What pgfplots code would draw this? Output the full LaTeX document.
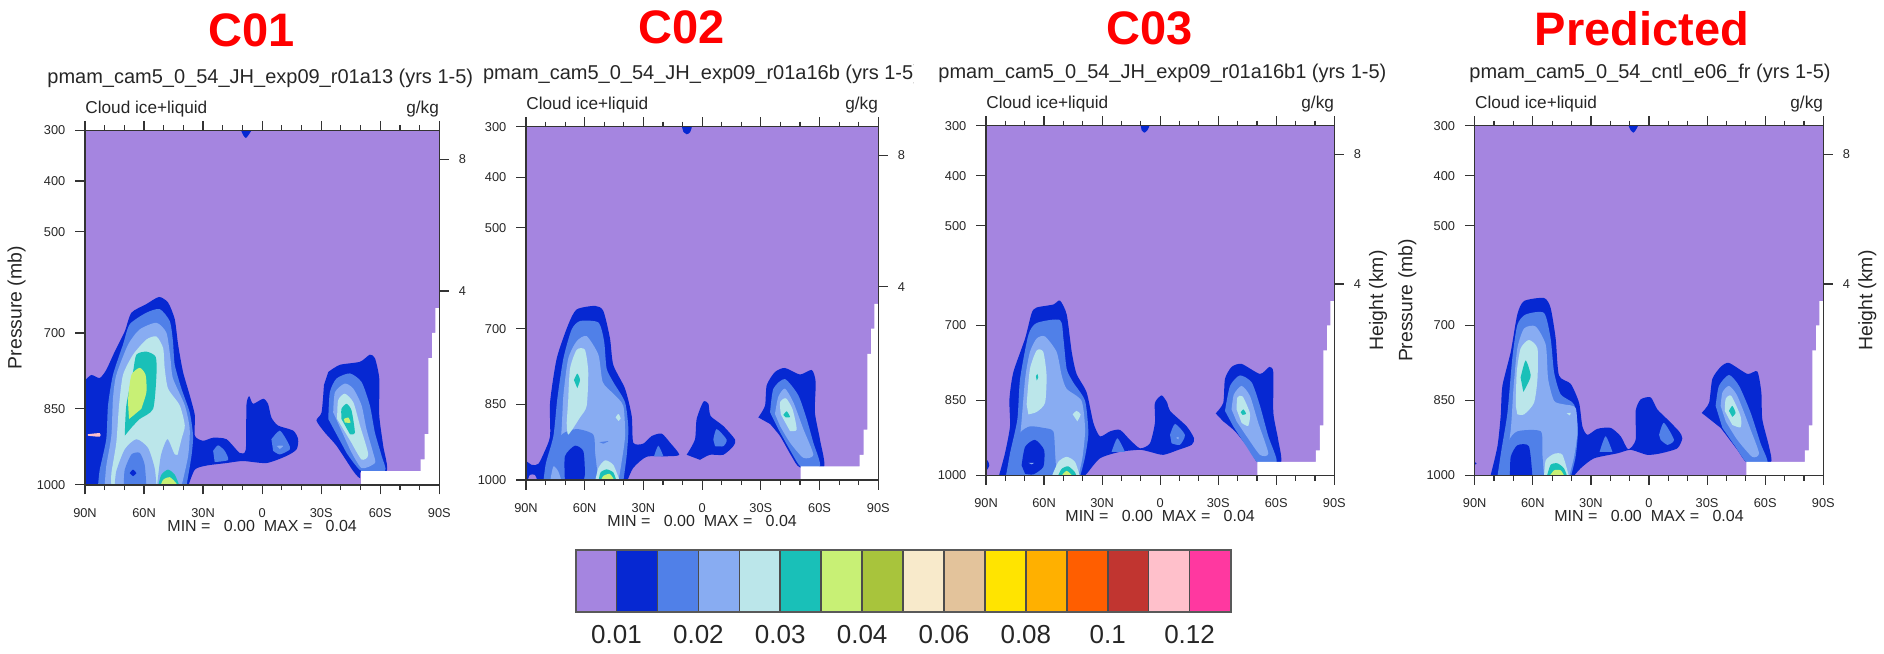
\documentclass[border=0pt]{standalone}
\usepackage{fontspec}
\setmainfont{Liberation Sans}
\usepackage{pgfplots}
\pgfplotsset{compat=1.18}
\definecolor{lv0}{HTML}{A585E0}
\definecolor{lv1}{HTML}{0628D2}
\definecolor{lv2}{HTML}{5080E8}
\definecolor{lv3}{HTML}{88ACF2}
\definecolor{lv4}{HTML}{BBE6EA}
\definecolor{lv5}{HTML}{19C0B8}
\definecolor{lv6}{HTML}{C8F075}
\definecolor{lv7}{HTML}{A8C43C}
\definecolor{lv8}{HTML}{F8EACB}
\definecolor{lv9}{HTML}{E3C39B}
\definecolor{lv10}{HTML}{FFE400}
\definecolor{lv11}{HTML}{FFB000}
\definecolor{lv12}{HTML}{FF5E00}
\definecolor{lv13}{HTML}{C13530}
\definecolor{lv14}{HTML}{FFC0CB}
\definecolor{lv15}{HTML}{FF38A0}
\newcommand{\lev}[2]{\addplot[fill=#1,draw=none,smooth,tension=0.4] coordinates {#2};}
\newcommand{\base}{%
\addplot[fill=lv0,draw=none] coordinates {(-2,298)(182,298)(182,1002)(-2,1002)};}
\newcommand{\white}{%
\addplot[fill=white,draw=none] coordinates {(140.3,1003)(140.3,973)(170.5,973)(170.5,950)(172.5,950)(172.5,900)(174.4,900)(174.4,750)(176.3,750)(176.3,700)(178,700)(178,651)(181,651)(181,1003)};}
\pgfplotsset{
  mainax/.style={
    scale only axis, anchor=south west, xmin=0, xmax=180, ymin=300, ymax=1000, y dir=reverse,
    axis on top, clip=true,
    xtick={0,30,60,90,120,150,180}, xticklabels={90N,60N,30N,0,30S,60S,90S},
    minor x tick num=2,
    ytick={300,400,500,700,850,1000}, yticklabels={300,400,500,700,850,1000},
    xtick pos=both, ytick pos=left, xticklabel pos=lower,
    tick align=outside, major tick length=4.8pt, minor tick length=2.6pt,
    axis line style={line width=0.7pt,color=black!80},
    tick style={line width=0.6pt,color=black!80},
    tick label style={font=\fontsize{6.4}{7}\selectfont,color=black!85},
    xticklabel style={yshift=-3.3pt}, yticklabel style={xshift=-1.5pt},
    xlabel style={at={(axis description cs:0.5,-0.116)},anchor=center,font=\fontsize{8}{10}\selectfont,color=black!85},
    xlabel={MIN =\ \ \ 0.00\ \ MAX =\ \ \ 0.04},
    ylabel style={at={(axis description cs:-0.193,0.5)},anchor=center,rotate=0,font=\fontsize{9.7}{11}\selectfont,color=black!85},
  },
  rightax/.style={
    scale only axis, anchor=south west, xmin=0, xmax=180, ymin=300, ymax=1000, y dir=reverse,
    axis x line=none, axis y line*=right,
    ytick={357,617}, yticklabels={8,4},
    tick align=outside, major tick length=4.8pt,
    axis line style={line width=0.7pt,color=black!80},
    tick style={line width=0.6pt,color=black!80},
    tick label style={font=\fontsize{6.4}{7}\selectfont,color=black!85},
    yticklabel style={xshift=1.5pt},
    ylabel style={at={(axis description cs:1.126,0.5)},anchor=center,rotate=0,font=\fontsize{9.7}{11}\selectfont,color=black!85},
  },
}
\newcommand{\bodyA}{%
\base
\lev{lv1}{(-3,1005)(-3,791)(0,793)(3.2,783)(7.5,789)(10.8,773)(15.1,737)(20.2,697)(23.6,660)(31.2,643)(37.6,629)(42.2,640)(45.6,673)(47.3,723)(49.8,777)(53.2,823)(55.8,863)(55.8,903)(60,913)(65.1,907)(71.9,910)(78.6,937)(81.7,930)(82,843)(83.4,825)(85.4,840)(90.5,830)(93,840)(94.7,867)(98.1,883)(105.8,893)(108.3,910)(107.5,930)(102.4,943)(92.2,957)(80.3,953)(71.9,957)(61.7,962)(55.8,970)(52.4,1003)}
\lev{lv1}{(123.6,777)(129.5,763)(139.7,757)(144.7,743)(147.3,750)(149.5,790)(149.5,863)(151.5,923)(153.2,973)(140.5,973)(139.7,987)(136.3,973)(127.8,923)(121.9,897)(117.6,873)(120.2,857)(121.4,803)}
\lev{lv1}{(79,298)(84.5,298)(82.9,310)(81.7,315)(80.5,310)}
\lev{lv2}{(6.6,1003)(7.5,970)(10.8,910)(11.7,843)(14.2,783)(19.3,723)(22.7,683)(31.2,660)(38,653)(43.1,677)(44.7,717)(45.6,763)(49,810)(53.2,857)(54.9,903)(54.1,943)(51.5,1003)}
\lev{lv3}{(10,1003)(10.8,963)(13.4,903)(14.2,830)(15.9,783)(21.9,723)(27.8,693)(36.3,680)(41.4,700)(43.4,750)(44.7,790)(50.7,843)(53.2,890)(52.4,943)(49,1003)}
\lev{lv4}{(13.4,1003)(13.4,977)(15.9,917)(17.3,843)(19.3,783)(24.4,743)(31.2,713)(36.3,707)(39.7,730)(40.5,770)(42.2,810)(48.1,843)(50.7,883)(49,910)(46.4,957)(48.1,1003)}
\lev{lv3}{(15.1,1003)(15.9,973)(20.2,930)(26.1,910)(32,927)(35.4,967)(36.3,1003)}
\lev{lv3}{(36.6,1003)(38.5,943)(41.9,910)(45.6,940)(49.5,943)(49,1003)}
\lev{lv2}{(19.7,1003)(20.2,970)(23.6,940)(27.8,937)(30.3,960)(31.2,1003)}
\lev{lv1}{(22.7,977)(24.4,970)(26.1,977)(24.4,983)}
\lev{lv5}{(37.1,1003)(38.8,980)(42.2,970)(45.6,980)(48.1,1003)}
\lev{lv6}{(38.3,1003)(39.7,990)(43.1,985)(46.4,997)(46.8,1003)}
\lev{lv5}{(20.2,903)(21,843)(24.4,777)(26.1,743)(31.2,737)(35.9,747)(36.3,783)(34.6,850)(27.8,870)(23.6,887)}
\lev{lv6}{(22.4,870)(21.9,830)(23.6,783)(27.8,769)(30.8,783)(31.2,817)(28.6,850)}
\lev{lv14}{(1.5,900)(7.5,898)(7.5,905)(1.5,903)}
\lev{lv2}{(65.1,933)(67.6,922)(71,933)(72.7,951)(65.9,955)}
\lev{lv2}{(94.7,910)(99,893)(103.2,917)(104.1,930)(99,940)(95.6,933)}
\lev{lv3}{(97.3,923)(100.7,923)(99,929)}
\lev{lv2}{(123.6,870)(124.4,817)(127.8,790)(134.6,780)(140.5,797)(144.7,843)(147.3,897)(150.7,943)(152.4,973)(140.5,973)(132.9,937)}
\lev{lv3}{(126.1,857)(127,817)(132,800)(136.3,810)(140.5,843)(143,890)(146.4,937)(147.3,957)(140.5,967)(134.6,930)}
\lev{lv4}{(128.1,870)(128.6,833)(132,820)(136.3,837)(139.7,883)(143.9,940)(140.5,950)(135.4,917)}
\lev{lv5}{(130.3,870)(130.3,850)(132.9,840)(135.4,853)(137.1,897)(134.6,900)}
\lev{lv6}{(131.5,870)(133.7,867)(134.9,877)(132,877)}
\white}
\newcommand{\bodyB}{%
\base
\lev{lv1}{(-3,1005)(-3,957)(2.9,970)(6.3,968)(9.2,946)(12.3,913)(12.3,846)(15.7,759)(21.6,692)(25.9,662)(35.3,655)(39.5,665)(42.9,719)(44.6,772)(50.6,819)(54,873)(54.8,926)(59.9,928)(64.2,913)(69.3,908)(73.6,926)(78.3,950)(71.9,953)(61.6,954)(54.8,976)(51.4,1005)}
\lev{lv0}{(0.7,1003)(2,990)(4.5,990)(6,1003)}
\lev{lv1}{(82.1,950)(86.3,920)(87.2,879)(90.6,845)(93.2,849)(94.3,873)(100.8,893)(106.8,920)(105.9,933)(100.8,950)(94,950)(88.9,960)}
\lev{lv1}{(118.7,876)(122.1,853)(123,812)(127.2,786)(132.3,778)(140,791)(146,782)(148,806)(147.6,866)(150.2,920)(152.2,975)(140,975)(135.7,953)(129.8,913)(124.7,889)}
\lev{lv1}{(79.5,298)(84.6,298)(83.8,311)(82.1,315)(80.4,310)}
\lev{lv2}{(8.9,1003)(10.2,966)(14,913)(16,839)(19.1,759)(23.3,702)(27.6,685)(37,688)(39.9,725)(41.2,779)(44.6,806)(50.6,846)(52.3,899)(51.4,953)(49.7,1003)}
\lev{lv3}{(12.3,1003)(13.1,966)(17.7,920)(19.1,832)(21.6,759)(25.9,725)(31,715)(37,752)(39.2,806)(44.6,829)(49.7,853)(50.6,913)(48.9,963)(47.2,1003)}
\lev{lv2}{(10.2,1003)(12.3,953)(18.2,910)(25.9,899)(34.4,910)(35.3,946)(37,1003)}
\lev{lv3}{(12.3,1003)(14,973)(16.5,983)(18.2,1003)}
\lev{lv1}{(19.9,1003)(19.9,953)(25,932)(29.3,943)(30.1,987)(29.3,1003)}
\lev{lv4}{(21.6,839)(22.5,779)(25.9,742)(30.1,742)(31.8,786)(31,853)(27.6,876)(21.6,910)(20.8,886)}
\lev{lv5}{(24.5,802)(26.2,789)(27.6,802)(26.2,818)}
\lev{lv4}{(45.8,876)(47.2,869)(48.4,878)(47.2,883)}
\lev{lv4}{(35.3,1003)(37,976)(40.4,961)(44.6,970)(48,1003)}
\lev{lv5}{(37,1003)(38.1,985)(41.2,979)(44.6,985)(46.3,1003)}
\lev{lv6}{(38.1,1003)(39.5,992)(42.9,988)(45.5,1003)}
\lev{lv2}{(37.5,925)(42.1,923)(39.5,928)}
\lev{lv2}{(95.7,920)(97.4,899)(102.5,920)(100.8,933)(96.6,933)}
\lev{lv2}{(65.4,953)(67.6,932)(70.2,953)}
\lev{lv2}{(124.7,866)(126.4,819)(132.3,800)(139.1,832)(143.4,879)(146.8,926)(150.2,972)(140.8,975)(135.7,946)(128.9,899)}
\lev{lv3}{(127.2,869)(128.9,835)(132.3,819)(136.6,846)(141.7,899)(146.8,950)(141.7,956)(134.9,926)(129.8,893)}
\lev{lv4}{(130.2,870)(129.8,846)(132.8,838)(136.2,860)(138.3,900)(134.9,903)}
\lev{lv5}{(131.5,871)(133.2,864)(134.9,875)(132.8,876)}
\white}
\newcommand{\bodyC}{%
\base
\lev{lv1}{(6.4,1005)(9.8,956)(12.4,902)(12.1,848)(14.1,794)(20.2,726)(23.6,675)(26.2,664)(34.8,658)(38.2,650)(41.7,678)(44.3,753)(46.8,797)(52,834)(55.5,895)(58.9,922)(64.1,912)(69.2,909)(74.4,929)(79.6,946)(84.7,936)(87.3,895)(87.3,855)(90.8,840)(93.7,855)(95.1,871)(103.7,902)(107.5,926)(106.3,939)(99.4,949)(91.6,959)(84.7,953)(79.6,949)(69.2,953)(58.9,966)(52,997)(49.4,1005)}
\lev{lv1}{(-3,959)(0.7,970)(1.7,980)(0.3,990)(-3,991)}
\lev{lv1}{(118.7,876)(122.6,855)(123.5,807)(126.9,783)(132.1,777)(141.6,797)(146.4,783)(148.5,794)(148.5,875)(151,929)(152.3,975)(140.7,975)(136.4,949)(128.7,912)(122.6,892)}
\lev{lv1}{(79.9,298)(84.4,298)(83.4,309)(81.8,314)(80.4,309)}
\lev{lv2}{(10.3,1003)(12.4,956)(16.2,888)(17.6,807)(21.9,719)(26.2,695)(38.2,689)(40,726)(41.7,787)(45.1,814)(51.2,851)(52.9,915)(51.2,963)(48.6,1003)}
\lev{lv3}{(13.3,1003)(14.1,976)(17.6,922)(20.2,807)(22.7,753)(26.2,726)(30.5,722)(36.5,753)(39.1,800)(41.7,827)(49.4,851)(51.2,909)(49.9,963)(47.7,1003)}
\lev{lv2}{(10.3,1003)(13.3,956)(17.6,915)(22.7,902)(29.6,905)(34.8,912)(35.7,956)(36.5,1003)}
\lev{lv1}{(18.4,980)(20.2,943)(25.3,929)(30,949)(29.6,983)(24.5,998)(20.2,997)}
\lev{lv3}{(21.9,975)(24.8,975)(23.6,978)}
\lev{lv4}{(21,858)(22.7,787)(26.2,750)(29.6,753)(31.3,800)(30.5,855)(26.2,873)(21.9,878)}
\lev{lv5}{(25.8,802)(26.5,797)(27,804)(26.2,810)}
\lev{lv4}{(44.8,878)(46.8,871)(48.9,878)(47.2,892)}
\lev{lv4}{(33.9,1003)(37.4,973)(41.7,963)(46,973)(48.6,1003)}
\lev{lv5}{(37,1003)(39.1,987)(42.5,982)(46,994)(46.8,1003)}
\lev{lv6}{(38.6,1003)(41.7,991)(45.1,1003)}
\lev{lv2}{(64.9,953)(67.9,926)(71.8,953)}
\lev{lv2}{(95.1,919)(97.7,897)(102.8,919)(100.2,939)(95.9,936)}
\lev{lv3}{(98.2,925)(99.6,923)(99.4,928)}
\lev{lv2}{(123.5,871)(126.1,821)(131.2,800)(137.3,814)(141.6,861)(145.9,922)(150.2,973)(140.7,975)(134.7,943)(127.8,902)}
\lev{lv3}{(126.9,868)(128.1,838)(132.1,821)(136.4,841)(140.7,895)(145.9,956)(141.6,959)(134.7,922)(129.5,892)}
\lev{lv4}{(129.5,868)(129.9,844)(132.6,842)(136.4,876)(135.5,901)(132.1,895)}
\lev{lv5}{(131.6,874)(133,868)(134.4,877)(132.6,879)}
\white}
\newcommand{\bodyD}{%
\base
\lev{lv1}{(7.9,1005)(11.7,943)(13.4,882)(14.3,821)(18.6,753)(22,678)(25.5,651)(35.8,645)(39.2,665)(41.8,726)(43.5,800)(49.6,817)(53.9,855)(55.6,902)(58.2,919)(63.3,907)(70.2,905)(75.4,922)(79.2,948)(83.1,929)(83.1,871)(85.7,848)(90.9,844)(94.3,868)(99.5,888)(105.5,912)(107.2,926)(104.6,946)(96,956)(89.1,959)(80.5,949)(73.7,956)(61.6,966)(54.7,986)(50.4,1005)}
\lev{lv1}{(-3,970)(1,976)(-3,985)}
\lev{lv1}{(117.2,875)(121,855)(122.7,807)(127,783)(131.3,775)(140.8,797)(145.9,792)(148,834)(148.5,888)(152,943)(152.8,975)(140.8,975)(135.6,949)(127,905)}
\lev{lv1}{(79.2,298)(84.3,298)(83.1,309)(81.9,314)(80.5,309)}
\lev{lv2}{(11.7,1003)(13.8,949)(16.9,875)(19.4,766)(22,699)(26.3,678)(35.8,675)(39.2,726)(41,794)(44.4,838)(51.3,858)(53.3,909)(52.1,963)(49.6,1003)}
\lev{lv3}{(15.1,1003)(18.6,909)(20,827)(22,746)(25.5,706)(31.5,702)(36.7,739)(37.9,807)(41,851)(46.1,858)(52.1,865)(53,915)(51.3,963)(48.7,1003)}
\lev{lv2}{(12.2,1003)(16.9,936)(22,912)(34.1,912)(34.9,956)(35.8,1003)}
\lev{lv1}{(18.2,1003)(18.6,963)(22,940)(28,942)(29.8,1003)}
\lev{lv4}{(21.2,861)(21.7,794)(23.7,746)(28,729)(32.4,746)(32.4,807)(30.6,855)(25.5,878)(22,878)}
\lev{lv5}{(23.7,804)(26.3,770)(28.9,800)(26.8,821)(25.1,833)}
\lev{lv4}{(47.5,876)(49.6,875)(49.1,880)}
\lev{lv4}{(35.8,1003)(36.7,970)(41,957)(45.3,959)(48.7,1003)}
\lev{lv5}{(37.2,1003)(39.2,979)(42.7,976)(46.1,986)(47.8,1003)}
\lev{lv6}{(38.4,1003)(41,990)(44.4,990)(46.5,1003)}
\lev{lv2}{(64.5,953)(67.6,922)(71.1,953)}
\lev{lv2}{(95.2,919)(97.7,895)(102.9,929)(99.5,939)(96,929)}
\lev{lv2}{(124.4,861)(126.1,821)(131.3,799)(136.5,821)(142.5,875)(147.6,936)(151.1,975)(140.8,975)(134.7,943)(127.9,905)}
\lev{lv3}{(127,861)(127.9,834)(131.3,821)(135.6,841)(142.5,909)(146.8,956)(143.3,963)(135.6,929)(129.6,892)}
\lev{lv4}{(129.1,871)(129.6,847)(132.5,841)(137.3,882)(137.3,904)(133,899)}
\lev{lv5}{(131.3,871)(133,861)(134.7,875)(133,883)}
\white}
\newcommand{\bignode}[3]{\node[font=\fontsize{23.5}{26}\selectfont\bfseries,text=red,inner sep=0] at (#1,#2) {#3};}
\newcommand{\subt}[3]{\node[anchor=west,font=\fontsize{10}{12}\selectfont,text=black!85,inner sep=0] at (#1,#2) {#3};}
\newcommand{\cloud}[3]{%
\node[anchor=west,font=\fontsize{8.6}{10}\selectfont,text=black!85,inner sep=0] at (#1,#3) {Cloud ice+liquid};
\node[anchor=east,font=\fontsize{8.6}{10}\selectfont,text=black!85,inner sep=0] at (#2,#3) {g/kg};}
\begin{document}
\begin{tikzpicture}[x=0.5pt,y=-0.5pt]
\path[use as bounding box] (0,0) rectangle (1884,653);
% panel 1
\begin{axis}[mainax,at={(42.5pt,-242.4pt)},width=177.15pt,height=177.2pt,ylabel={Pressure (mb)}]
\bodyA
\end{axis}
\begin{axis}[rightax,at={(42.5pt,-242.4pt)},width=177.15pt,height=177.2pt]
\end{axis}
% panel 2
\begin{axis}[mainax,at={(263pt,-240pt)},width=176.15pt,height=176.65pt]
\bodyB
\end{axis}
\begin{axis}[rightax,at={(263pt,-240pt)},width=176.15pt,height=176.65pt]
\end{axis}
% panel 3
\begin{axis}[mainax,at={(493pt,-237.65pt)},width=174.15pt,height=174.8pt]
\bodyC
\end{axis}
\begin{axis}[rightax,at={(493pt,-237.65pt)},width=174.15pt,height=174.8pt,ylabel={Height (km)}]
\end{axis}
% panel 4
\begin{axis}[mainax,at={(737.35pt,-237.65pt)},width=174.3pt,height=174.8pt,ylabel={Pressure (mb)}]
\bodyD
\end{axis}
\begin{axis}[rightax,at={(737.35pt,-237.65pt)},width=174.3pt,height=174.8pt,ylabel={Height (km)}]
\end{axis}
% colour bar
\begin{axis}[scale only axis,anchor=south west,at={(287.8pt,-306pt)},width=327.45pt,height=31.2pt,
  xmin=0,xmax=16,ymin=0,ymax=1,axis on top,ytick=\empty,
  xtick={1,3,5,7,9,11,13,15},xticklabels={0.01,0.02,0.03,0.04,0.06,0.08,0.1,0.12},
  major tick length=0pt,
  axis line style={line width=1pt,color=black!65},
  xticklabel style={font=\fontsize{13}{15}\selectfont,color=black!85,yshift=-3pt}]
\addplot[fill=lv0,draw=black!70,line width=0.8pt] coordinates {(0,0)(1,0)(1,1)(0,1)} -- cycle;
\addplot[fill=lv1,draw=black!70,line width=0.8pt] coordinates {(1,0)(2,0)(2,1)(1,1)} -- cycle;
\addplot[fill=lv2,draw=black!70,line width=0.8pt] coordinates {(2,0)(3,0)(3,1)(2,1)} -- cycle;
\addplot[fill=lv3,draw=black!70,line width=0.8pt] coordinates {(3,0)(4,0)(4,1)(3,1)} -- cycle;
\addplot[fill=lv4,draw=black!70,line width=0.8pt] coordinates {(4,0)(5,0)(5,1)(4,1)} -- cycle;
\addplot[fill=lv5,draw=black!70,line width=0.8pt] coordinates {(5,0)(6,0)(6,1)(5,1)} -- cycle;
\addplot[fill=lv6,draw=black!70,line width=0.8pt] coordinates {(6,0)(7,0)(7,1)(6,1)} -- cycle;
\addplot[fill=lv7,draw=black!70,line width=0.8pt] coordinates {(7,0)(8,0)(8,1)(7,1)} -- cycle;
\addplot[fill=lv8,draw=black!70,line width=0.8pt] coordinates {(8,0)(9,0)(9,1)(8,1)} -- cycle;
\addplot[fill=lv9,draw=black!70,line width=0.8pt] coordinates {(9,0)(10,0)(10,1)(9,1)} -- cycle;
\addplot[fill=lv10,draw=black!70,line width=0.8pt] coordinates {(10,0)(11,0)(11,1)(10,1)} -- cycle;
\addplot[fill=lv11,draw=black!70,line width=0.8pt] coordinates {(11,0)(12,0)(12,1)(11,1)} -- cycle;
\addplot[fill=lv12,draw=black!70,line width=0.8pt] coordinates {(12,0)(13,0)(13,1)(12,1)} -- cycle;
\addplot[fill=lv13,draw=black!70,line width=0.8pt] coordinates {(13,0)(14,0)(14,1)(13,1)} -- cycle;
\addplot[fill=lv14,draw=black!70,line width=0.8pt] coordinates {(14,0)(15,0)(15,1)(14,1)} -- cycle;
\addplot[fill=lv15,draw=black!70,line width=0.8pt] coordinates {(15,0)(16,0)(16,1)(15,1)} -- cycle;
\end{axis}
% text
\bignode{252}{30.5}{C01}
\bignode{682}{27}{C02}
\bignode{1150}{28}{C03}
\bignode{1642}{28.5}{Predicted}
\begin{scope}
\clip (30,55) rectangle (473,98);
\subt{47}{78.4}{pmam\_cam5\_0\_54\_JH\_exp09\_r01a13 (yrs 1-5)}
\end{scope}
\begin{scope}
\clip (476,55) rectangle (913,98);
\subt{482.7}{74.4}{pmam\_cam5\_0\_54\_JH\_exp09\_r01a16b (yrs 1-5)}
\end{scope}
\subt{938}{73.4}{pmam\_cam5\_0\_54\_JH\_exp09\_r01a16b1 (yrs 1-5)}
\subt{1469}{73.4}{pmam\_cam5\_0\_54\_cntl\_e06\_fr (yrs 1-5)}
\cloud{85}{439.3}{108.9}
\cloud{526}{878.3}{105.5}
\cloud{986}{1334.3}{104}
\cloud{1474.7}{1823.3}{104}
\end{tikzpicture}
\end{document}
